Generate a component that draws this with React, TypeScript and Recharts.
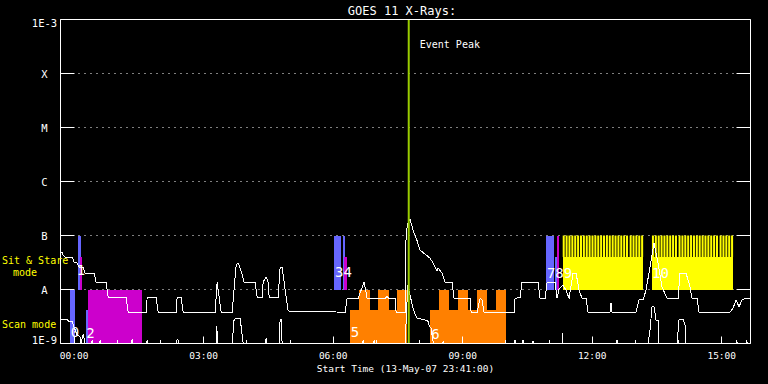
import {
  LineChart, Line, XAxis, YAxis, CartesianGrid, ReferenceArea, ReferenceLine, ReferenceDot
} from 'recharts'

const FONT = '"DejaVu Sans Mono", monospace'

// time axis in hours after 00:00 (14-May-07); plot runs 23:41 -> 15:40
const tStart = -19 / 60
const tEnd = 15 + 40 / 60
const peakTime = 7.75

const hourTicks = [0, 1, 2, 3, 4, 5, 6, 7, 8, 9, 10, 11, 12, 13, 14, 15]
const fluxTicks = [1e-9, 1e-8, 1e-7, 1e-6, 1e-5, 1e-4, 1e-3]
const fluxLabels = ['1E-9', 'A', 'B', 'C', 'M', 'X', '1E-3']

// GOES 1-8 A channel (W/m^2)
const longChannel = [
  { t: -0.317, f: 4.9e-8 }, { t: -0.278, f: 4.9e-8 }, { t: -0.255, f: 4.3e-8 }, { t: -0.208, f: 3.97e-8 },
  { t: -0.046, f: 3.97e-8 }, { t: 0, f: 3.2e-8 }, { t: 0.069, f: 3.08e-8 }, { t: 0.116, f: 2.6e-8 },
  { t: 0.208, f: 2.6e-8 }, { t: 0.255, f: 2.0e-8 }, { t: 0.463, f: 2.0e-8 }, { t: 0.509, f: 1.37e-8 },
  { t: 0.741, f: 1.37e-8 }, { t: 0.787, f: 7.2e-9 }, { t: 1.204, f: 7.2e-9 }, { t: 1.251, f: 3.8e-9 },
  { t: 1.667, f: 3.8e-9 }, { t: 1.691, f: 7.2e-9 }, { t: 1.899, f: 7.2e-9 }, { t: 1.945, f: 3.8e-9 },
  { t: 2.362, f: 3.8e-9 }, { t: 2.385, f: 7.2e-9 }, { t: 2.478, f: 7.2e-9 }, { t: 2.524, f: 3.8e-9 },
  { t: 3.265, f: 3.8e-9 }, { t: 3.312, f: 1.37e-8 }, { t: 3.404, f: 3.8e-9 }, { t: 3.659, f: 3.8e-9 },
  { t: 3.752, f: 2.83e-8 }, { t: 3.798, f: 3.08e-8 }, { t: 3.844, f: 2.49e-8 }, { t: 3.868, f: 2.19e-8 },
  { t: 3.937, f: 1.37e-8 }, { t: 4.192, f: 1.37e-8 }, { t: 4.238, f: 7.2e-9 }, { t: 4.354, f: 7.2e-9 },
  { t: 4.377, f: 1.37e-8 }, { t: 4.446, f: 1.69e-8 }, { t: 4.493, f: 1.37e-8 }, { t: 4.516, f: 7.2e-9 },
  { t: 4.724, f: 7.2e-9 }, { t: 4.771, f: 2.6e-8 }, { t: 4.817, f: 2.6e-8 }, { t: 4.91, f: 7.2e-9 },
  { t: 4.956, f: 4.0e-9 }, { t: 6.276, f: 3.8e-9 }, { t: 6.322, f: 6.85e-9 }, { t: 6.577, f: 6.85e-9 },
  { t: 6.716, f: 1.37e-8 }, { t: 6.786, f: 6.85e-9 }, { t: 7.202, f: 6.85e-9 }, { t: 7.249, f: 7.4e-9 },
  { t: 7.295, f: 6.85e-9 }, { t: 7.434, f: 6.85e-9 }, { t: 7.457, f: 3.8e-9 }, { t: 7.666, f: 3.8e-9 },
  { t: 7.689, f: 1.1e-7 }, { t: 7.735, f: 1.76e-7 }, { t: 7.781, f: 2.0e-7 }, { t: 7.851, f: 1.25e-7 },
  { t: 7.944, f: 8.0e-8 }, { t: 8.013, f: 5.35e-8 }, { t: 8.129, f: 4.5e-8 }, { t: 8.245, f: 3.8e-8 },
  { t: 8.314, f: 3.08e-8 }, { t: 8.407, f: 2.19e-8 }, { t: 8.43, f: 2.49e-8 }, { t: 8.523, f: 2.01e-8 },
  { t: 8.592, f: 1.37e-8 }, { t: 8.754, f: 1.37e-8 }, { t: 8.8, f: 6.85e-9 }, { t: 9.171, f: 6.85e-9 },
  { t: 9.194, f: 3.8e-9 }, { t: 9.333, f: 3.8e-9 }, { t: 9.403, f: 6.85e-9 }, { t: 9.449, f: 6.4e-9 },
  { t: 9.495, f: 3.8e-9 }, { t: 10.19, f: 3.8e-9 }, { t: 10.213, f: 6.85e-9 }, { t: 10.329, f: 7.2e-9 },
  { t: 10.375, f: 1.37e-8 }, { t: 10.746, f: 1.37e-8 }, { t: 10.792, f: 6.85e-9 }, { t: 10.908, f: 6.85e-9 },
  { t: 10.954, f: 1.37e-8 }, { t: 11.139, f: 1.37e-8 }, { t: 11.186, f: 6.85e-9 }, { t: 11.232, f: 1.02e-8 },
  { t: 11.325, f: 1.2e-8 }, { t: 11.394, f: 9.75e-9 }, { t: 11.464, f: 6.85e-9 }, { t: 11.556, f: 2.01e-8 },
  { t: 11.626, f: 2.01e-8 }, { t: 11.695, f: 9.75e-9 }, { t: 11.765, f: 6.85e-9 }, { t: 11.857, f: 6.85e-9 },
  { t: 11.904, f: 3.8e-9 }, { t: 12.413, f: 3.8e-9 }, { t: 12.436, f: 5.6e-9 }, { t: 12.46, f: 3.8e-9 },
  { t: 13.016, f: 3.8e-9 }, { t: 13.085, f: 6.4e-9 }, { t: 13.178, f: 6.4e-9 }, { t: 13.247, f: 9.75e-9 },
  { t: 13.432, f: 7.2e-8 }, { t: 13.525, f: 3.08e-8 }, { t: 13.617, f: 1.12e-8 }, { t: 13.733, f: 6.85e-9 },
  { t: 13.988, f: 6.85e-9 }, { t: 14.034, f: 2.01e-8 }, { t: 14.173, f: 2.01e-8 }, { t: 14.266, f: 1.12e-8 },
  { t: 14.312, f: 6.85e-9 }, { t: 14.428, f: 6.85e-9 }, { t: 14.474, f: 3.8e-9 }, { t: 15.192, f: 3.8e-9 },
  { t: 15.262, f: 4.5e-9 }, { t: 15.331, f: 6.4e-9 }, { t: 15.401, f: 4.8e-9 }, { t: 15.47, f: 6.4e-9 },
  { t: 15.54, f: 6.85e-9 }, { t: 15.667, f: 6.85e-9 },
]

// GOES 0.5-4 A channel (W/m^2)
const shortChannel = [
  { t: -0.317, f: 2.8e-9 }, { t: -0.162, f: 2.8e-9 }, { t: -0.116, f: 2.53e-9 }, { t: -0.046, f: 2.53e-9 },
  { t: 0.023, f: 1.78e-9 }, { t: 0.069, f: 1.44e-9 }, { t: 0.139, f: 1.32e-9 }, { t: 0.162, f: 1e-9 },
  { t: 0.208, f: 1.5e-9 }, { t: 0.255, f: 1e-9 },
  { t: 0.407, f: 1e-9 }, { t: 0.417, f: 1.16e-9 }, { t: 0.427, f: 1e-9 },
  { t: 0.592, f: 1e-9 }, { t: 0.602, f: 1.16e-9 }, { t: 0.612, f: 1e-9 },
  { t: 1.333, f: 1e-9 }, { t: 1.343, f: 1.21e-9 }, { t: 1.353, f: 1e-9 },
  { t: 1.681, f: 1e-9 }, { t: 1.691, f: 1.16e-9 }, { t: 1.701, f: 1e-9 },
  { t: 2.37, f: 1e-9 }, { t: 2.385, f: 1.21e-9 }, { t: 2.41, f: 1.16e-9 }, { t: 2.42, f: 1e-9 },
  { t: 3.29, f: 1e-9 }, { t: 3.305, f: 2.1e-9 }, { t: 3.32, f: 1e-9 },
  { t: 3.659, f: 1e-9 }, { t: 3.705, f: 2.8e-9 }, { t: 3.752, f: 2.96e-9 }, { t: 3.844, f: 2.96e-9 },
  { t: 3.891, f: 1.44e-9 }, { t: 3.914, f: 1e-9 },
  { t: 4.436, f: 1e-9 }, { t: 4.446, f: 1.26e-9 }, { t: 4.456, f: 1e-9 },
  { t: 4.748, f: 1e-9 }, { t: 4.771, f: 2.8e-9 }, { t: 4.794, f: 2.8e-9 }, { t: 4.817, f: 1e-9 },
  { t: 6.683, f: 1e-9 }, { t: 6.693, f: 1.16e-9 }, { t: 6.703, f: 1e-9 },
  { t: 6.938, f: 1e-9 }, { t: 6.948, f: 1.16e-9 }, { t: 6.958, f: 1e-9 },
  { t: 7.666, f: 1e-9 }, { t: 7.728, f: 1.2e-8 }, { t: 7.805, f: 6.4e-9 }, { t: 7.858, f: 4.2e-9 },
  { t: 7.936, f: 2.96e-9 }, { t: 8.129, f: 2.72e-9 }, { t: 8.191, f: 2.64e-9 }, { t: 8.228, f: 2.1e-9 },
  { t: 8.267, f: 1.91e-9 }, { t: 8.321, f: 1e-9 },
  { t: 8.536, f: 1e-9 }, { t: 8.546, f: 1.1e-9 }, { t: 8.556, f: 1e-9 },
  { t: 10.203, f: 1e-9 }, { t: 10.213, f: 1.16e-9 }, { t: 10.223, f: 1e-9 },
  { t: 10.388, f: 1e-9 }, { t: 10.398, f: 1.16e-9 }, { t: 10.408, f: 1e-9 },
  { t: 10.62, f: 1e-9 }, { t: 10.63, f: 1.1e-9 }, { t: 10.64, f: 1e-9 },
  { t: 11.303, f: 1e-9 }, { t: 11.313, f: 1.56e-9 }, { t: 11.323, f: 1e-9 },
  { t: 12.565, f: 1e-9 }, { t: 12.575, f: 1.16e-9 }, { t: 12.585, f: 1e-9 },
  { t: 13.293, f: 1e-9 }, { t: 13.339, f: 1.78e-9 }, { t: 13.386, f: 4.8e-9 }, { t: 13.432, f: 4.8e-9 },
  { t: 13.479, f: 2.72e-9 }, { t: 13.525, f: 2.72e-9 }, { t: 13.548, f: 1e-9 },
  { t: 13.965, f: 1e-9 }, { t: 14.011, f: 2.8e-9 }, { t: 14.104, f: 2.8e-9 }, { t: 14.15, f: 2.2e-9 },
  { t: 14.173, f: 1e-9 },
  { t: 15.337, f: 1e-9 }, { t: 15.347, f: 1.16e-9 }, { t: 15.357, f: 1e-9 },
  { t: 15.569, f: 1e-9 }, { t: 15.579, f: 1.16e-9 }, { t: 15.589, f: 1e-9 },
  { t: 15.667, f: 1e-9 },
]

// observation blocks: hours from/to, flux band lo/hi
const blueBlocks = [
  { from: 0.086, to: 0.162, lo: 1e-8, hi: 1e-7 },
  { from: -0.093, to: 0.023, lo: 1e-9, hi: 1e-8 },
  { from: 0.278, to: 0.324, lo: 1e-9, hi: 4.2e-9 },
  { from: 6.021, to: 6.177, lo: 1e-8, hi: 1e-7 },
  { from: 6.223, to: 6.269, lo: 1e-8, hi: 1e-7 },
  { from: 10.931, to: 11.116, lo: 1e-8, hi: 1e-7 },
  { from: 11.139, to: 11.186, lo: 1e-8, hi: 4e-8 },
]
const magentaBlocks = [
  { from: 0.139, to: 0.185, lo: 1e-8, hi: 4e-8 },
  { from: 0.324, to: 1.575, lo: 1e-9, hi: 1e-8 },
  { from: 6.253, to: 6.322, lo: 1e-8, hi: 4e-8 },
  { from: 11.186, to: 11.232, lo: 1e-8, hi: 1e-7 },
]
const orangeBlocks = [
  { from: 6.392, to: 7.712, lo: 1e-9, hi: 4.2e-9 },
  { from: 6.607, to: 6.855, lo: 4.2e-9, hi: 1e-8 },
  { from: 7.04, to: 7.288, lo: 4.2e-9, hi: 1e-8 },
  { from: 7.48, to: 7.712, lo: 4.2e-9, hi: 1e-8 },
  { from: 8.245, to: 10.005, lo: 1e-9, hi: 4.2e-9 },
  { from: 8.453, to: 8.684, lo: 4.2e-9, hi: 1e-8 },
  { from: 8.893, to: 9.131, lo: 4.2e-9, hi: 1e-8 },
  { from: 9.333, to: 9.565, lo: 4.2e-9, hi: 1e-8 },
  { from: 9.773, to: 10.005, lo: 4.2e-9, hi: 1e-8 },
]
const yellowBlocks = [
  { from: 11.317, to: 13.18, lo: 1e-8, hi: 4e-8 },
  { from: 13.385, to: 15.267, lo: 1e-8, hi: 4e-8 },
]
// sit & stare frame start times, minutes after 00:00
const frameStarts = [
  679, 683, 687, 691, 695, 699, 703, 707, 711, 715, 719, 723, 727, 731,
  735, 739, 743, 747, 751, 755, 759, 763, 767, 772, 776, 780, 784, 788,
  803, 807, 811, 815, 819, 823, 827, 831, 835, 840, 844, 848, 852, 856,
  860, 864, 868, 872, 876, 880, 884, 888, 892, 897, 901, 905, 909, 913,
]
const frameLength = 2.8

const segmentLabels = [
  { t: 0.019, f: 1.6e-9, text: '0' },
  { t: 0.158, f: 2.3e-8, text: '1' },
  { t: 0.378, f: 1.56e-9, text: '2' },
  { t: 6.239, f: 2.1e-8, text: '34' },
  { t: 6.505, f: 1.6e-9, text: '5' },
  { t: 8.368, f: 1.5e-9, text: '6' },
  { t: 11.244, f: 1.98e-8, text: '789' },
  { t: 13.582, f: 2.03e-8, text: '10' },
]

const snap = (v: number) => Math.floor(v) + 0.5

const bottomTick = ({ x, y, payload }: any) => {
  const major = payload.value % 3 === 0
  const px = snap(x)
  return (
    <g>
      <line x1={px} x2={px} y1={y} y2={y - (major ? 7 : 3.5)} stroke="#fff" />
      {major && (
        <text x={x} y={y + 15.5} textAnchor="middle" fill="#fff" fontSize={9.5} fontFamily={FONT}>
          {String(payload.value).padStart(2, '0')}:00
        </text>
      )}
    </g>
  )
}

const topTick = ({ x, y, payload }: any) => {
  const major = payload.value % 3 === 0
  const px = snap(x)
  return <line x1={px} x2={px} y1={y} y2={y + (major ? 6 : 3)} stroke="#fff" />
}

const leftTick = ({ x, y, payload }: any) => {
  const i = Math.round(Math.log10(payload.value)) + 9
  const dy = i === 6 ? 7.5 : i === 0 ? 0.5 : 4
  return (
    <g>
      <line x1={x} x2={x + 14} y1={y} y2={y} stroke="#fff" />
      <text x={x - 16} y={y + dy} textAnchor="middle" fill="#fff" fontSize={10.5} fontFamily={FONT}>
        {fluxLabels[i]}
      </text>
    </g>
  )
}

const rightTick = ({ x, y }: any) => <line x1={x} x2={x - 14} y1={y} y2={y} stroke="#fff" />

const block = (
  b: { from: number; to: number; lo: number; hi: number }, color: string, key: string, crisp = true
) => (
  <ReferenceArea
    key={key} x1={b.from} x2={b.to} y1={b.lo} y2={b.hi}
    fill={color} fillOpacity={1} stroke="none" shapeRendering={crisp ? 'crispEdges' : 'auto'}
  />
)

export default function App() {
  return (
    <div style={{ position: 'absolute', left: 0, top: 0, width: 768, height: 384, background: '#000' }}>
      <LineChart width={768} height={384} margin={{ top: 0, right: 0, bottom: 0, left: 0 }}>
        <CartesianGrid vertical={false} stroke="#fff" strokeDasharray="1 5" />
        <XAxis
          dataKey="t" type="number" domain={[tStart, tEnd]} ticks={hourTicks} interval={0}
          allowDataOverflow height={40.5} tickSize={0} tickMargin={0} tickLine={false}
          axisLine={{ stroke: '#fff' }} tick={bottomTick}
        />
        <XAxis
          xAxisId="top" orientation="top" type="number" domain={[tStart, tEnd]} ticks={hourTicks} interval={0}
          allowDataOverflow height={19.5} tickSize={0} tickMargin={0} tickLine={false}
          axisLine={{ stroke: '#fff' }} tick={topTick}
        />
        <YAxis
          type="number" scale="log" domain={[1e-9, 1e-3]} ticks={fluxTicks} interval={0}
          allowDataOverflow width={60.5} tickSize={0} tickMargin={0} tickLine={false}
          axisLine={{ stroke: '#fff' }} tick={leftTick}
        />
        <YAxis
          yAxisId="right" orientation="right" type="number" scale="log" domain={[1e-9, 1e-3]}
          ticks={fluxTicks} interval={0} allowDataOverflow width={17.5} tickSize={0} tickMargin={0}
          tickLine={false} axisLine={{ stroke: '#fff' }} tick={rightTick}
        />

        {blueBlocks.map((b, i) => block(b, '#6666ff', `b${i}`))}
        {magentaBlocks.map((b, i) => block(b, '#cc00cc', `m${i}`))}
        {orangeBlocks.map((b, i) => block(b, '#ff8000', `o${i}`))}
        {yellowBlocks.map((b, i) => block(b, '#ffff00', `y${i}`))}
        {frameStarts.map((m, i) =>
          block({ from: m / 60, to: (m + frameLength) / 60, lo: 4e-8, hi: 1e-7 }, '#ffff00', `f${i}`, false)
        )}

        <Line data={longChannel} dataKey="f" type="linear" stroke="#fff" strokeWidth={1} dot={false}
          isAnimationActive={false} shapeRendering="crispEdges" />
        <Line data={shortChannel} dataKey="f" type="linear" stroke="#fff" strokeWidth={1} dot={false}
          isAnimationActive={false} shapeRendering="crispEdges" />

        <ReferenceLine
          x={peakTime} stroke="#99cc00" strokeWidth={2}
          label={({ viewBox }: any) => (
            <text x={viewBox.x + 11} y={viewBox.y + 28} fill="#fff" fontSize={10} fontFamily={FONT}>
              Event Peak
            </text>
          )}
        />

        {segmentLabels.map((s, i) => (
          <ReferenceDot
            key={`s${i}`} x={s.t} y={s.f} r={0} fill="none" stroke="none"
            label={{ value: s.text, position: 'center', fill: '#fff', fontSize: 14, fontFamily: FONT }}
          />
        ))}
      </LineChart>

      <svg width={768} height={384} style={{ position: 'absolute', left: 0, top: 0, pointerEvents: 'none' }}>
        <text x={402} y={15} textAnchor="middle" fill="#fff" fontSize={12} fontFamily={FONT}>GOES 11 X-Rays:</text>
        <text x={405.5} y={372} textAnchor="middle" fill="#fff" fontSize={9.5} fontFamily={FONT}>
          Start Time (13-May-07 23:41:00)
        </text>
        <text x={2} y={263.5} fill="#ffff00" fontSize={10} fontFamily={FONT}>Sit &amp; Stare</text>
        <text x={13} y={275.5} fill="#ffff00" fontSize={10} fontFamily={FONT}>mode</text>
        <text x={2} y={328} fill="#ffff00" fontSize={10} fontFamily={FONT}>Scan mode</text>
      </svg>
    </div>
  )
}
